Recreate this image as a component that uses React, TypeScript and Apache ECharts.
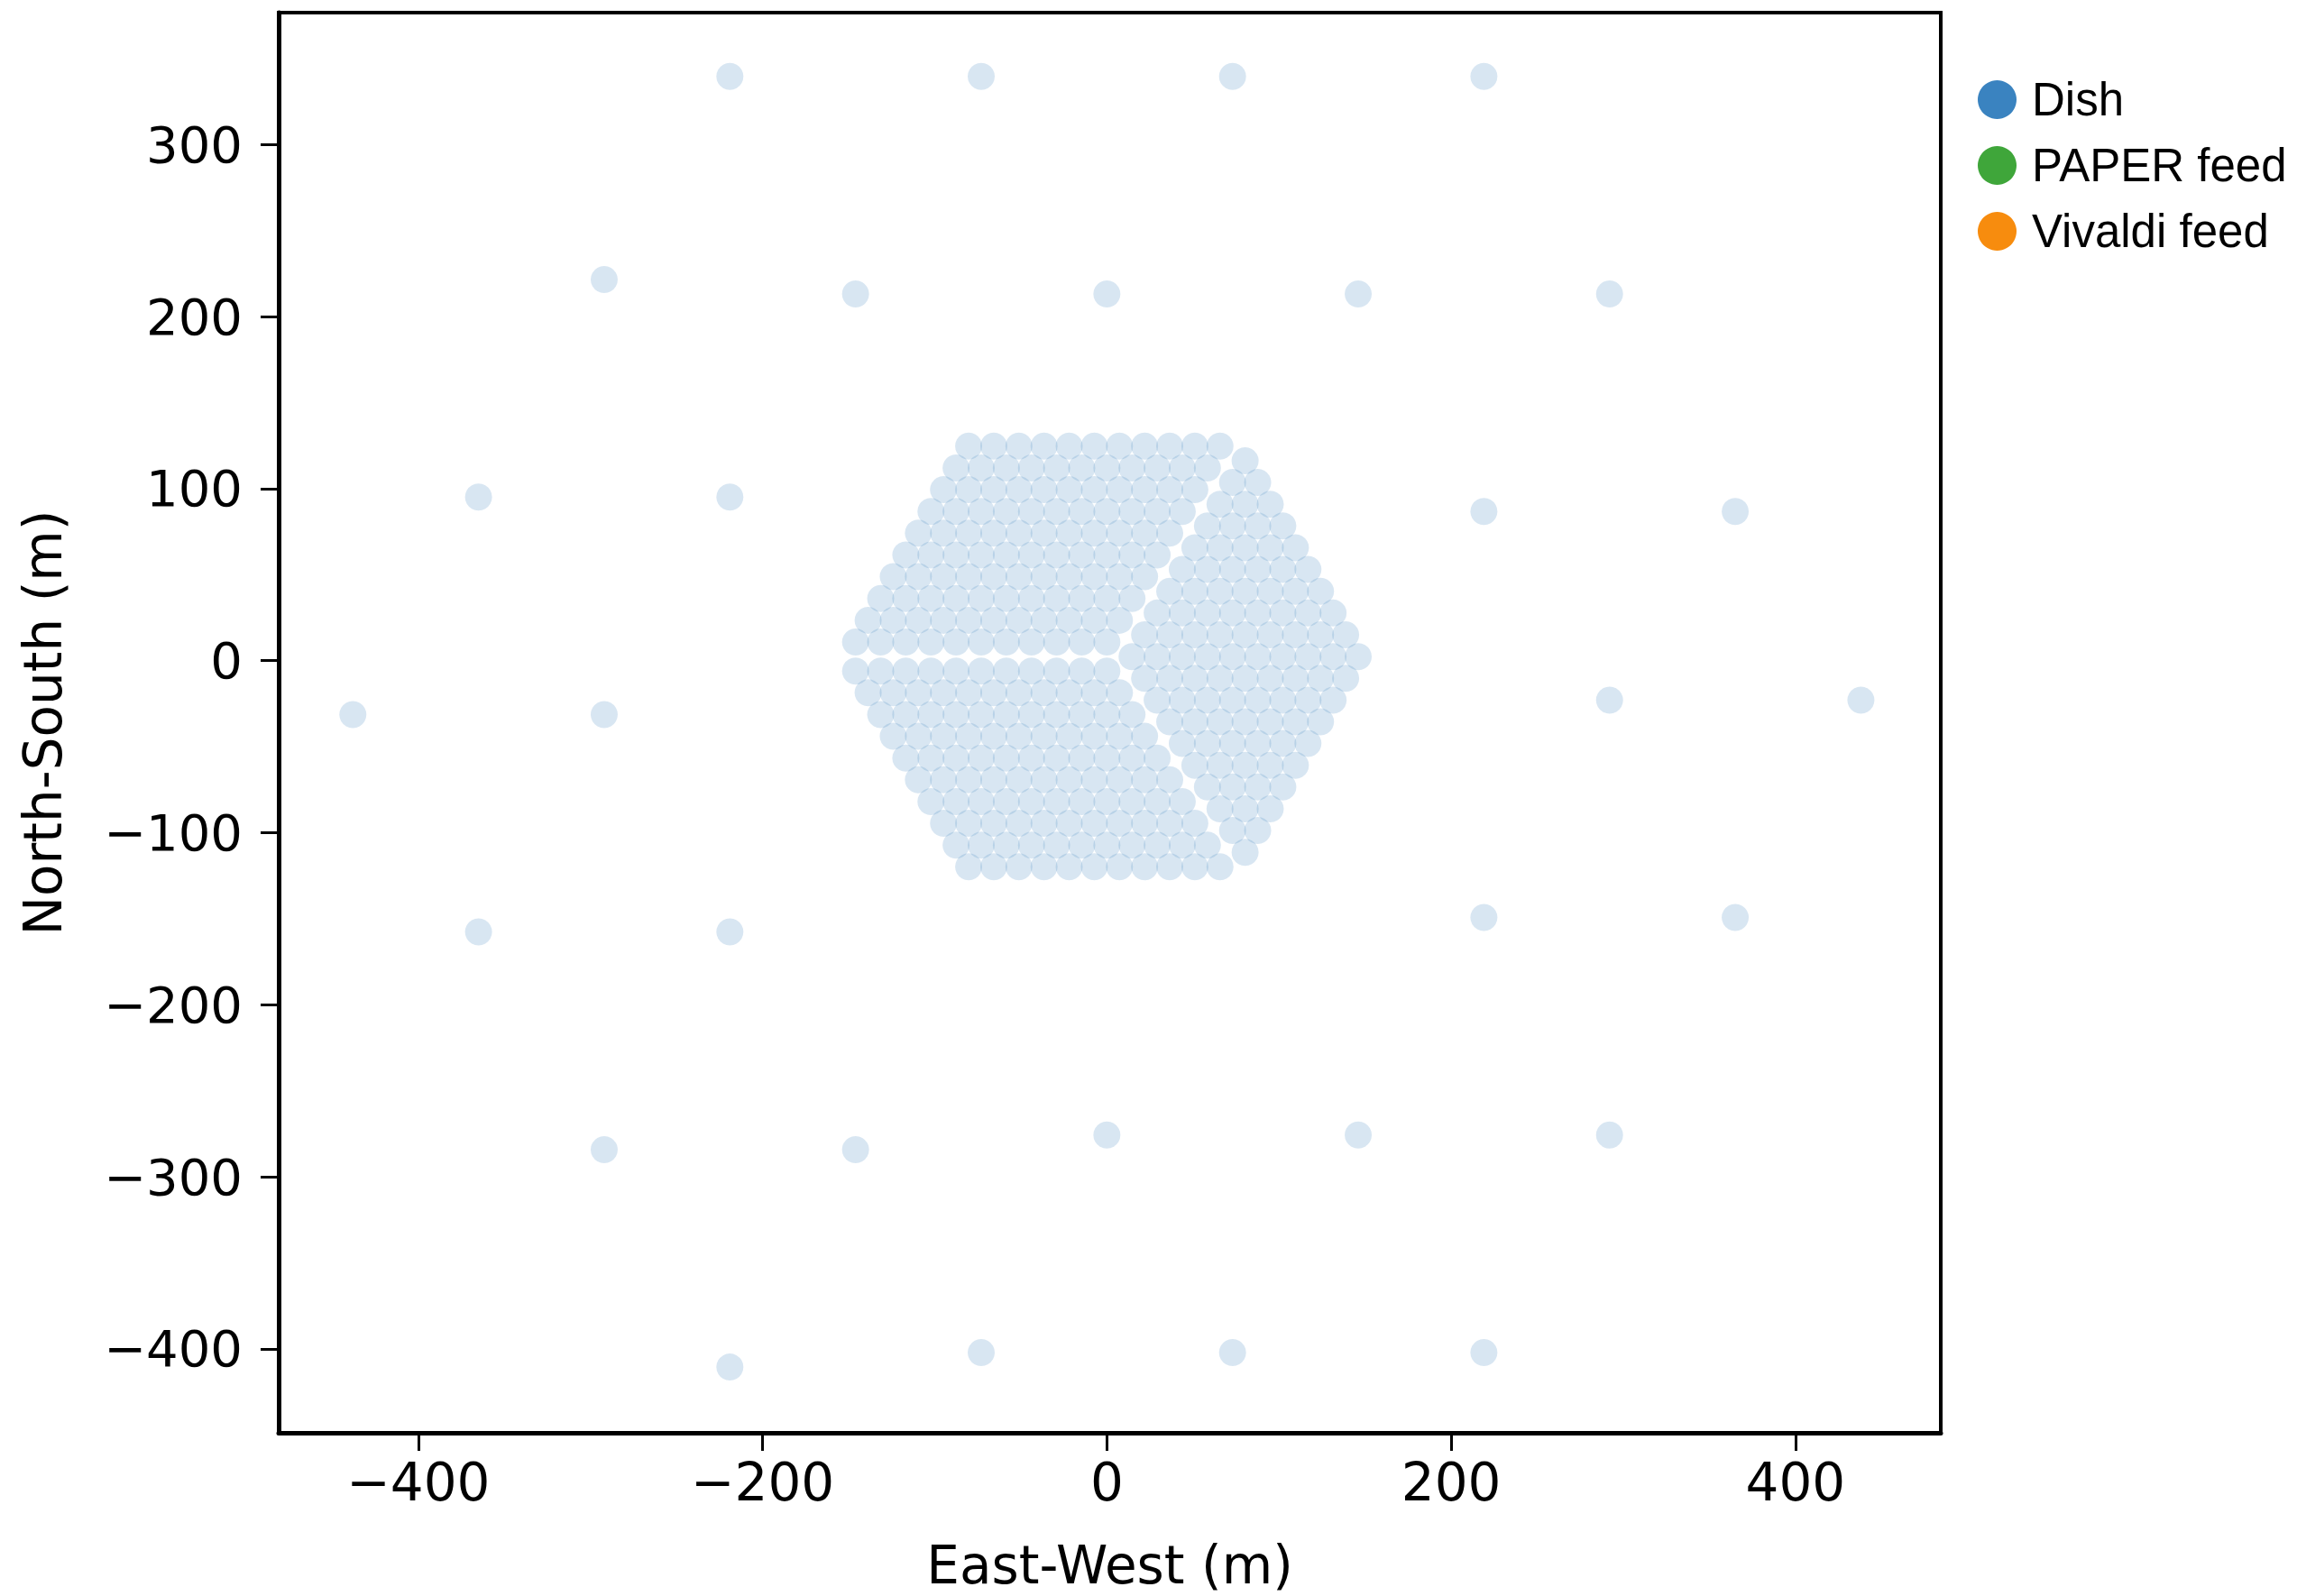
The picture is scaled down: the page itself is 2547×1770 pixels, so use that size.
import React, { useEffect, useRef } from "react";
import * as echarts from "echarts";

// ---- Data (metres, East-West x / North-South y) ----
// Core, upper-left sector: [y, x values]
const coreUpperLeft: [number, number[]][] = [
  [124.7, [-80.3, -65.7, -51.1, -36.5, -21.9, -7.3, 7.3, 21.9, 36.5, 51.1, 65.7]],
  [112.0, [-87.6, -73, -58.4, -43.8, -29.2, -14.6, 0, 14.6, 29.2, 43.8, 58.4]],
  [99.4, [-94.9, -80.3, -65.7, -51.1, -36.5, -21.9, -7.3, 7.3, 21.9, 36.5, 51.1]],
  [86.7, [-102.2, -87.6, -73, -58.4, -43.8, -29.2, -14.6, 0, 14.6, 29.2, 43.8]],
  [74.1, [-109.5, -94.9, -80.3, -65.7, -51.1, -36.5, -21.9, -7.3, 7.3, 21.9, 36.5]],
  [61.4, [-116.8, -102.2, -87.6, -73, -58.4, -43.8, -29.2, -14.6, 0, 14.6, 29.2]],
  [48.8, [-124.1, -109.5, -94.9, -80.3, -65.7, -51.1, -36.5, -21.9, -7.3, 7.3, 21.9]],
  [36.1, [-131.4, -116.8, -102.2, -87.6, -73, -58.4, -43.8, -29.2, -14.6, 0, 14.6]],
  [23.5, [-138.7, -124.1, -109.5, -94.9, -80.3, -65.7, -51.1, -36.5, -21.9, -7.3, 7.3]],
  [10.9, [-146, -131.4, -116.8, -102.2, -87.6, -73, -58.4, -43.8, -29.2, -14.6, 0]],
];

// Core, right sector
const coreRight: [number, number[]][] = [
  [116.2, [80.3]],
  [103.6, [73, 87.6]],
  [90.9, [65.7, 80.3, 94.9]],
  [78.3, [58.4, 73, 87.6, 102.2]],
  [65.6, [51.1, 65.7, 80.3, 94.9, 109.5]],
  [53.0, [43.8, 58.4, 73, 87.6, 102.2, 116.8]],
  [40.4, [36.5, 51.1, 65.7, 80.3, 94.9, 109.5, 124.1]],
  [27.7, [29.2, 43.8, 58.4, 73, 87.6, 102.2, 116.8, 131.4]],
  [15.1, [21.9, 36.5, 51.1, 65.7, 80.3, 94.9, 109.5, 124.1, 138.7]],
  [2.4, [14.6, 29.2, 43.8, 58.4, 73, 87.6, 102.2, 116.8, 131.4, 146]],
  [-10.2, [21.9, 36.5, 51.1, 65.7, 80.3, 94.9, 109.5, 124.1, 138.7]],
  [-22.9, [29.2, 43.8, 58.4, 73, 87.6, 102.2, 116.8, 131.4]],
  [-35.5, [36.5, 51.1, 65.7, 80.3, 94.9, 109.5, 124.1]],
  [-48.1, [43.8, 58.4, 73, 87.6, 102.2, 116.8]],
  [-60.8, [51.1, 65.7, 80.3, 94.9, 109.5]],
  [-73.4, [58.4, 73, 87.6, 102.2]],
  [-86.1, [65.7, 80.3, 94.9]],
  [-98.7, [73, 87.6]],
  [-111.4, [80.3]],
];

// Core, lower-left sector
const coreLowerLeft: [number, number[]][] = [
  [-6.0, [-146, -131.4, -116.8, -102.2, -87.6, -73, -58.4, -43.8, -29.2, -14.6, 0]],
  [-18.6, [-138.7, -124.1, -109.5, -94.9, -80.3, -65.7, -51.1, -36.5, -21.9, -7.3, 7.3]],
  [-31.3, [-131.4, -116.8, -102.2, -87.6, -73, -58.4, -43.8, -29.2, -14.6, 0, 14.6]],
  [-43.9, [-124.1, -109.5, -94.9, -80.3, -65.7, -51.1, -36.5, -21.9, -7.3, 7.3, 21.9]],
  [-56.6, [-116.8, -102.2, -87.6, -73, -58.4, -43.8, -29.2, -14.6, 0, 14.6, 29.2]],
  [-69.2, [-109.5, -94.9, -80.3, -65.7, -51.1, -36.5, -21.9, -7.3, 7.3, 21.9, 36.5]],
  [-81.9, [-102.2, -87.6, -73, -58.4, -43.8, -29.2, -14.6, 0, 14.6, 29.2, 43.8]],
  [-94.5, [-94.9, -80.3, -65.7, -51.1, -36.5, -21.9, -7.3, 7.3, 21.9, 36.5, 51.1]],
  [-107.2, [-87.6, -73, -58.4, -43.8, -29.2, -14.6, 0, 14.6, 29.2, 43.8, 58.4]],
  [-119.8, [-80.3, -65.7, -51.1, -36.5, -21.9, -7.3, 7.3, 21.9, 36.5, 51.1, 65.7]],
];

// Outriggers: [x, y]
const outriggers: [number, number][] = [
  [-219, 339.6], [-73, 339.6], [73, 339.6], [219, 339.6],
  [-292, 221.6], [-146, 213.2], [0, 213.2], [146, 213.2], [292, 213.2],
  [-365, 95.1], [-219, 95.1], [219, 86.7], [365, 86.7],
  [-438, -31.3], [-292, -31.3], [292, -22.9], [438, -22.9],
  [-365, -157.7], [-219, -157.7], [219, -149.3], [365, -149.3],
  [-292, -284.2], [-146, -284.2], [0, -275.7], [146, -275.7], [292, -275.7],
  [-219, -410.6], [-73, -402.2], [73, -402.2], [219, -402.2],
];

const xTicks = [-400, -200, 0, 200, 400];
const yTicks = [-400, -300, -200, -100, 0, 100, 200, 300];
const legendNames = ["Dish", "PAPER feed", "Vivaldi feed"];
const legendColors = ["#3a83c0", "#3fa63a", "#f78c0e"];

const rowsToPoints = (rows: [number, number[]][]) =>
  rows.flatMap(([y, xs]) => xs.map((x) => [x, y]));

const fmt = (v: number) => (v < 0 ? "\u2212" + Math.abs(v) : String(v));

export default function App() {
  const ref = useRef<HTMLDivElement>(null);
  useEffect(() => {
    if (!ref.current) return;
    const chart = echarts.init(ref.current, null, { renderer: "svg" });
    const dishData = [
      ...rowsToPoints(coreUpperLeft),
      ...rowsToPoints(coreRight),
      ...rowsToPoints(coreLowerLeft),
      ...outriggers,
    ];
    const axisFont = { fontFamily: "DejaVu Sans", color: "#000" };
    chart.setOption({
      animation: false,
      backgroundColor: "#fff",
      grid: {
        left: 309,
        top: 14,
        width: 1843,
        height: 1577,
        show: true,
        borderColor: "#000",
        borderWidth: 4,
        backgroundColor: "transparent",
      },
      legend: {
        orient: "vertical",
        left: 2188,
        top: 80,
        itemWidth: 43,
        itemHeight: 43,
        itemGap: 22,
        icon: "circle",
        selectedMode: false,
        textStyle: {
          fontFamily: "Liberation Sans",
          fontSize: 51,
          color: "#000",
          padding: [0, 0, 0, 12],
        },
        data: legendNames.map((n, i) => ({
          name: n,
          itemStyle: { color: legendColors[i], opacity: 1 },
        })),
      },
      xAxis: {
        type: "value",
        min: -481.1,
        max: 484.4,
        splitLine: { show: false },
        axisLine: { onZero: false, lineStyle: { color: "#000", width: 5 } },
        axisTick: {
          show: true,
          length: 20,
          customValues: xTicks,
          lineStyle: { color: "#000", width: 3 },
        },
        axisLabel: {
          customValues: xTicks,
          formatter: fmt,
          fontSize: 58,
          margin: 26,
          ...axisFont,
        },
        name: "East-West (m)",
        nameLocation: "middle",
        nameGap: 118,
        nameTextStyle: { fontSize: 58, ...axisFont },
      },
      yAxis: {
        type: "value",
        min: -448.8,
        max: 376.7,
        splitLine: { show: false },
        axisLine: { onZero: false, lineStyle: { color: "#000", width: 5 } },
        axisTick: {
          show: true,
          length: 20,
          customValues: yTicks,
          lineStyle: { color: "#000", width: 3 },
        },
        axisLabel: {
          customValues: yTicks,
          formatter: fmt,
          fontSize: 56,
          margin: 40,
          ...axisFont,
        },
        name: "North-South (m)",
        nameLocation: "middle",
        nameGap: 232,
        nameTextStyle: { fontSize: 58, ...axisFont },
      },
      series: [
        {
          name: "Dish",
          type: "scatter",
          symbol: "circle",
          symbolSize: 30,
          silent: true,
          itemStyle: { color: "#3a83c0", opacity: 0.2 },
          data: dishData,
        },
        {
          name: "PAPER feed",
          type: "scatter",
          symbol: "circle",
          itemStyle: { color: legendColors[1] },
          data: [],
        },
        {
          name: "Vivaldi feed",
          type: "scatter",
          symbol: "circle",
          itemStyle: { color: legendColors[2] },
          data: [],
        },
      ],
    });
    return () => chart.dispose();
  }, []);
  return (
    <div
      ref={ref}
      style={{
        position: "fixed",
        left: 0,
        top: 0,
        width: 2547,
        height: 1770,
        background: "#fff",
      }}
    />
  );
}
